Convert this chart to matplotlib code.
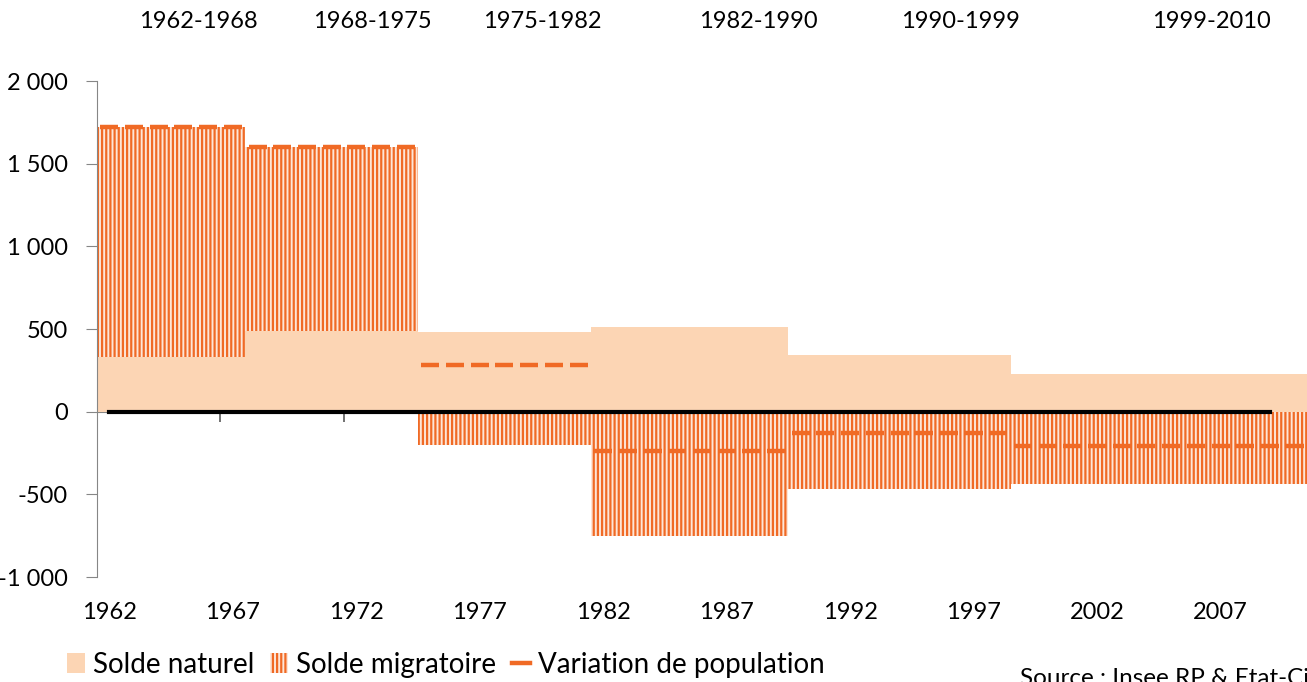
import numpy as np
import matplotlib
matplotlib.use("Agg")
import matplotlib.pyplot as plt
from matplotlib.patches import Patch
from matplotlib.lines import Line2D
from matplotlib.ticker import FuncFormatter

plt.rcParams['font.family'] = ['Lato', 'DejaVu Sans']
plt.rcParams['hatch.linewidth'] = 1.6

# Periods between censuses (annual averages)
periods = ["1962-1968", "1968-1975", "1975-1982", "1982-1990", "1990-1999", "1999-2010"]
period_start = [1962, 1968, 1975, 1982, 1990, 1999]
period_end = [1968, 1975, 1982, 1990, 1999, 2011]
naturel = [330, 490, 480, 510, 340, 230]
migratoire = [1390, 1110, -200, -750, -470, -440]
variation = [1720, 1600, 280, -240, -130, -210]
x_labels = [1962, 1967, 1972, 1977, 1982, 1987, 1992, 1997, 2002, 2007]

# one bar per year, period value repeated
counts = np.diff(np.r_[period_start, period_end[-1]])
years = np.arange(period_start[0], period_end[-1])
nat_y = np.repeat(naturel, counts)
mig_y = np.repeat(migratoire, counts)
var_y = np.repeat(variation, counts)

peach = "#FCD5B4"
orange = "#F06A25"

fig = plt.figure(figsize=(13.07, 6.82), dpi=100)
ax = fig.add_axes([97 / 1307, 1 - 577 / 682, 1 - 97 / 1307 + 0.01, (577 - 81) / 682])

ax.bar(years, nat_y, width=1.0, color=peach, linewidth=0, zorder=2)
mig_bottom = np.where(mig_y > 0, nat_y, 0)
ax.bar(years, mig_y, bottom=mig_bottom, width=1.0, facecolor="#FDE6D8",
       edgecolor=orange, hatch="||||", linewidth=0, zorder=2)

# zero line
ax.plot(years[years <= 2009], np.zeros(np.sum(years <= 2009)), color="black", lw=3, zorder=4)
# variation dashes
ax.plot(years, var_y, linestyle="none", marker="_", markersize=12.5, mew=3.2,
        color=orange, zorder=5)

ax.set_xlim(1961.5, 2010.5 + 0.01 * 1307 / 24.67)
ax.set_ylim(-1000, 2000)

ax.set_yticks(np.arange(-1000, 2001, 500))
ax.yaxis.set_major_formatter(FuncFormatter(lambda v, p: f"{int(v):,}".replace(",", " ")))
ax.tick_params(axis="y", length=8, color="#868686", pad=13, labelsize=17)
ax.set_xticks(x_labels)
ax.tick_params(axis="x", length=0, pad=18, labelsize=17)

for s in ["top", "right", "bottom"]:
    ax.spines[s].set_visible(False)
ax.spines["left"].set_color("#868686")

# axis line at zero with ticks between categories
sec = ax.secondary_xaxis(1 / 3)
sec.set_xticks(np.arange(1966.5, 2010, 5))
sec.set_xticklabels([])
sec.tick_params(length=7, width=1.2, color="#595959")
sec.spines["bottom"].set_color("#868686")

# period labels at the top
label_px = [198, 372, 542, 758, 960, 1211]
for lab, px in zip(periods, label_px):
    fig.text(px / 1307, 1 - 22 / 682, lab, ha="center", va="center", fontsize=17)

handles = [
    Patch(facecolor=peach, linewidth=0),
    Patch(facecolor="#FDE6D8", edgecolor=orange, hatch="||||", linewidth=0),
    Line2D([], [], color=orange, lw=3.2),
]
fig.legend(handles, ["Solde naturel", "Solde migratoire", "Variation de population"],
           loc="center left", bbox_to_anchor=(67 / 1307, 1 - 665 / 682), ncol=3,
           frameon=False, fontsize=20, handlelength=0.65, handleheight=0.75,
           handletextpad=0.3, columnspacing=0.55, borderaxespad=0, borderpad=0)

fig.text(1020 / 1307, 1 - 668 / 682, "Source : Insee RP & Etat-Civil", ha="left",
         va="top", fontsize=17.5)

fig.savefig("out.png", dpi=100)
